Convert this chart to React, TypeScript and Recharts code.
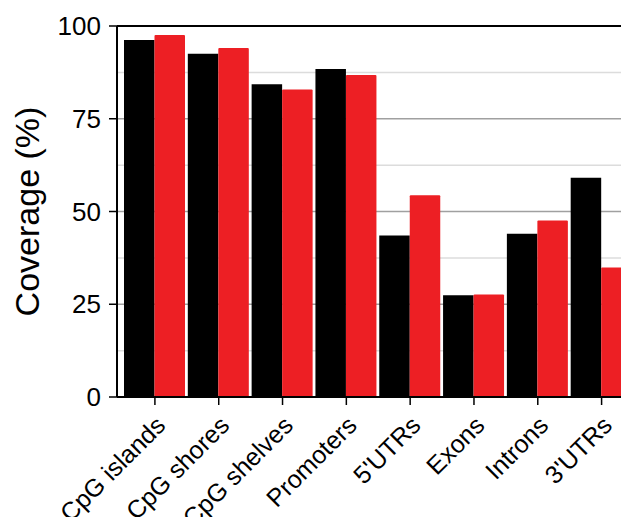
import { BarChart, Bar, XAxis, YAxis, CartesianGrid, ReferenceLine } from 'recharts'

// Coverage per genomic feature
const categories = ['CpG islands', 'CpG shores', 'CpG shelves', 'Promoters', "5'UTRs", 'Exons', 'Introns', "3'UTRs"]
const blackValues = [96.2, 92.5, 84.3, 88.4, 43.5, 27.4, 44.0, 59.1]
const redValues = [97.6, 94.1, 82.9, 86.8, 54.4, 27.6, 47.6, 34.9]
const yTicks = [0, 25, 50, 75, 100]
const majorGrid = [25, 50, 75]
const minorGrid = [12.5, 37.5, 62.5, 87.5]

const FONT = '"Liberation Sans", Arial, Helvetica, sans-serif'

const data = categories.map((name, i) => ({
  name,
  black: blackValues[i],
  red: redValues[i],
}))

const XTick = ({ x, y, payload }: any) => {
  const ax = x + 12
  const ay = y + 20
  return (
    <text
      x={ax}
      y={ay}
      textAnchor="end"
      fontSize={25}
      fontFamily={FONT}
      fill="#000"
      transform={`rotate(-45, ${ax}, ${ay})`}
    >
      {payload.value}
    </text>
  )
}

const YLabel = ({ viewBox }: any) => {
  const lx = (viewBox?.x ?? 0) + 39
  const ly = (viewBox?.y ?? 26) + (viewBox?.height ?? 371) / 2
  return (
    <text
      x={lx}
      y={ly}
      textAnchor="middle"
      fontSize={34}
      fontFamily={FONT}
      fill="#000"
      transform={`rotate(-90, ${lx}, ${ly})`}
    >
      Coverage (%)
    </text>
  )
}

export default function App() {
  return (
    <div style={{ margin: -8, width: 629, height: 525, overflow: 'hidden', background: '#fff' }}>
      <BarChart
        width={640}
        height={525}
        data={data}
        margin={{ top: 26, right: 0, left: 0, bottom: 0 }}
        barGap={0}
        barSize={30.5}
      >
        <CartesianGrid vertical={false} horizontalValues={minorGrid} stroke="#dcdcdc" strokeWidth={1.5} />
        <CartesianGrid vertical={false} horizontalValues={majorGrid} stroke="#a0a0a0" strokeWidth={1.5} />
        <XAxis
          dataKey="name"
          interval={0}
          height={128}
          padding={{ left: 6, right: 6.5 }}
          tick={<XTick />}
          tickSize={8}
          axisLine={{ stroke: '#000', strokeWidth: 2 }}
          tickLine={{ stroke: '#000', strokeWidth: 1.5 }}
        />
        <YAxis
          width={117}
          domain={[0, 100]}
          ticks={yTicks}
          tickSize={8}
          tickMargin={8}
          tick={{ fontSize: 26, fill: '#000', fontFamily: FONT }}
          axisLine={{ stroke: '#000', strokeWidth: 2 }}
          tickLine={{ stroke: '#000', strokeWidth: 1.5 }}
          label={<YLabel />}
        />
        <ReferenceLine y={100} stroke="#000" strokeWidth={2} />
        <Bar dataKey="black" fill="#000000" isAnimationActive={false} />
        <Bar dataKey="red" fill="#ed1f24" radius={[1, 1, 0, 0]} isAnimationActive={false} />
      </BarChart>
    </div>
  )
}
